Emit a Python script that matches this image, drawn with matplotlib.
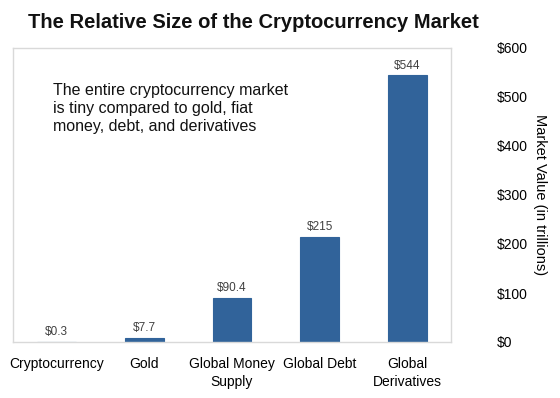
import numpy as np
import matplotlib
matplotlib.use("Agg")
from matplotlib import pyplot as plt

plt.rcParams['font.family'] = ['Liberation Sans', 'DejaVu Sans']

categories = ["Cryptocurrency", "Gold", "Global Money\nSupply", "Global Debt", "Global\nDerivatives"]
values = [0.3, 7.7, 90.4, 215, 544]
value_labels = ["$0.3", "$7.7", "$90.4", "$215", "$544"]
yticks = [0, 100, 200, 300, 400, 500, 600]

fig = plt.figure(figsize=(5.6, 3.98), dpi=100)
ax = fig.add_axes([13 / 560, 1 - 342 / 398, 438 / 560, 294 / 398])

x = np.arange(len(categories))
ax.bar(x, values, width=0.445, color='#31639a', edgecolor='#31639a', linewidth=0.8)
for xi, v, lab in zip(x, values, value_labels):
    ax.text(xi, v + 8, lab, ha='center', va='bottom', fontsize=8.5, color='#404040')

ax.set_xlim(-0.5, 4.5)
ax.set_ylim(0, 600)
ax.set_xticks(x)
ax.set_xticklabels(categories, fontsize=10, linespacing=1.3)
ax.tick_params(axis='x', length=0, pad=11)

ax.yaxis.tick_right()
ax.set_yticks(yticks)
ax.set_yticklabels(["$%d" % t for t in yticks], fontsize=10)
ax.tick_params(axis='y', length=0, pad=33)
ax.yaxis.set_label_position('right')
ax.set_ylabel("Market Value (in trillions)", rotation=-90, fontsize=10.5, va='center')
ax.yaxis.set_label_coords((540 - 13) / 438, 0.5)

for s in ax.spines.values():
    s.set_color('#d9d9d9')
    s.set_linewidth(1)

ax.text(0.091, 0.88, "The entire cryptocurrency market\nis tiny compared to gold, fiat\nmoney, debt, and derivatives",
        transform=ax.transAxes, ha='left', va='top', fontsize=11.5, linespacing=1.25, color='#111111')

fig.text(253 / 560, 1 - 22 / 398, "The Relative Size of the Cryptocurrency Market", ha='center', va='center',
         fontsize=14.5, fontweight='bold', color='#111111')

fig.savefig("out.png", dpi=100)
